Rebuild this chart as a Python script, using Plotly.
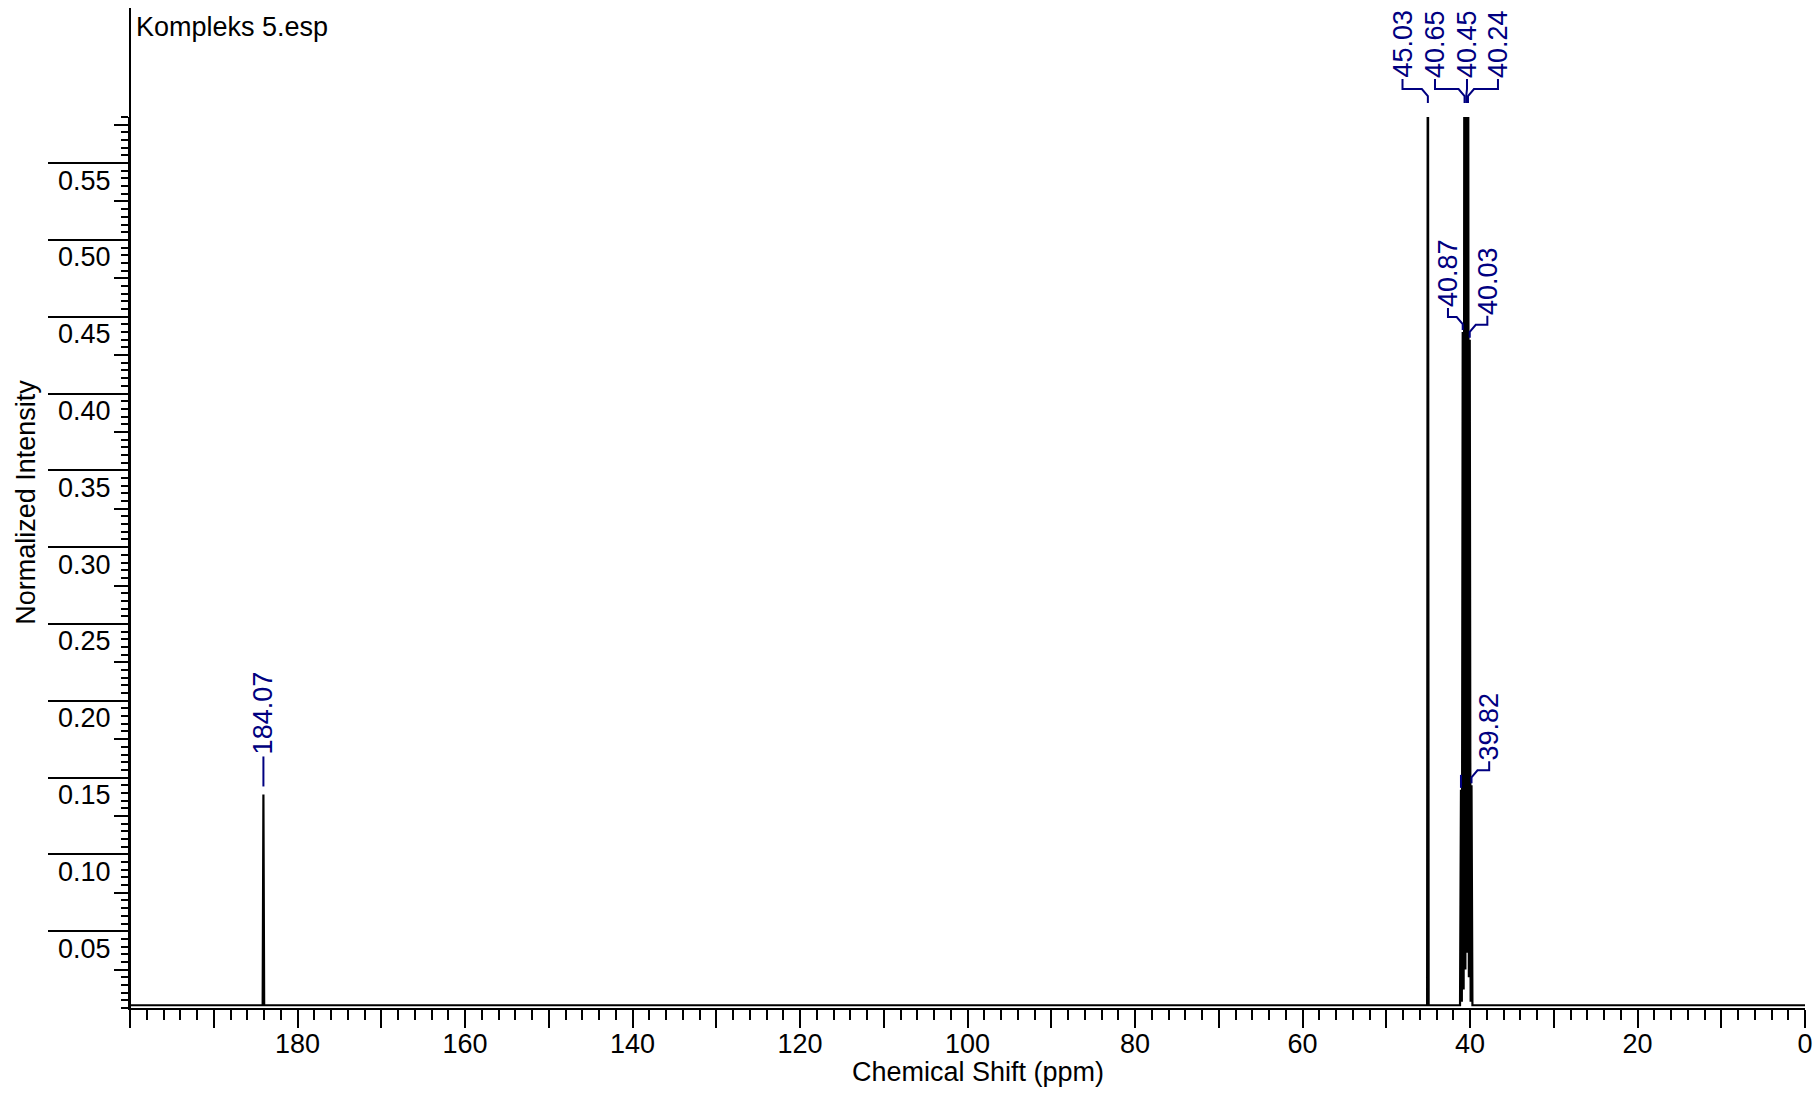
import plotly.graph_objects as go

# ---------------- data ----------------
spectrum_ppm = [200.0, 184.16, 184.07, 183.98, 45.12, 45.03, 44.94,
                41.19, 41.08, 40.975, 40.87, 40.76, 40.65, 40.55, 40.45,
                40.345, 40.24, 40.135, 40.03, 39.925, 39.82, 39.71, 0.0]
spectrum_intensity = [0.0018, 0.0018, 0.139, 0.0018, 0.0018, 0.80, 0.0018,
                      0.0018, 0.142, 0.004, 0.44, 0.012, 0.87, 0.025, 1.0,
                      0.036, 0.87, 0.02, 0.435, 0.004, 0.145, 0.0018, 0.0018]

top_labels = ["45.03", "40.65", "40.45", "40.24"]          # peaks above the view
peak_labels = ["40.87", "40.03", "39.82"]                  # labelled on their peak
dash_labels = ["184.07"]                                   # simple dash label
unlabeled_marks = [41.08]

x_tick_vals = list(range(0, 201, 10))
x_tick_text = ["0", "", "20", "", "40", "", "60", "", "80", "", "100", "",
               "120", "", "140", "", "160", "", "180", "", ""]
y_tick_vals = [0.05, 0.10, 0.15, 0.20, 0.25, 0.30, 0.35, 0.40, 0.45, 0.50, 0.55]
y_tick_text = ["0.05", "0.10", "0.15", "0.20", "0.25", "0.30", "0.35",
               "0.40", "0.45", "0.50", "0.55"]
y_mid_ticks = [0.025, 0.075, 0.125, 0.175, 0.225, 0.275, 0.325, 0.375,
               0.425, 0.475, 0.525, 0.575]

title_text = "Kompleks 5.esp"
x_title = "Chemical Shift (ppm)"
y_title = "Normalized Intensity"

# ---------------- layout constants ----------------
W, H = 1816, 1093
ML, MR, MT = 130, 11, 117
MB = H - MT - 891
PLOT_H = H - MT - MB
X_RANGE = [200, 0]
Y_RANGE = [0, 0.58]
FONT = "Liberation Sans, Arial, sans-serif"
FS = 27
LBL_COLOR = "#000080"
PX_PER_PPM = (W - ML - MR) / (X_RANGE[0] - X_RANGE[1])

# label x positions (ppm) for labels that are spread out
label_x = {"45.03": 48.06, "40.65": 44.18, "40.45": 40.36, "40.24": 36.66,
           "40.87": 42.63, "40.03": 37.93, "39.82": 37.71}

height_at = dict(zip(spectrum_ppm, spectrum_intensity))

fig = go.Figure()
fig.add_trace(go.Scatter(x=spectrum_ppm, y=spectrum_intensity, mode="lines",
                         line=dict(color="black", width=2.2), showlegend=False,
                         hoverinfo="skip"))
fig.add_trace(go.Scatter(x=[None], y=[None], yaxis="y2", showlegend=False))

shapes = []
annotations = []


def connector(lab_ppm, pk_ppm, yref, yanchor, y_text, y_knee, y_node, y_end):
    dx_px = abs(pk_ppm - lab_ppm) * PX_PER_PPM
    step = min(dx_px, 6.0) / PX_PER_PPM
    knee_x = pk_ppm + step if lab_ppm > pk_ppm else pk_ppm - step
    path = (f"M {lab_ppm},{y_text} L {lab_ppm},{y_knee} L {knee_x},{y_knee} "
            f"L {pk_ppm},{y_node} L {pk_ppm},{y_end}")
    return dict(type="path", xref="x", yref=yref, ysizemode="pixel",
                yanchor=yanchor, path=path,
                line=dict(color=LBL_COLOR, width=2))


for lab in top_labels:
    pk = float(lab)
    lx = label_x[lab]
    shapes.append(connector(lx, pk, "paper", 1, 38, 28, 21, 14))
    annotations.append(dict(text=lab, x=lx, xref="x", y=1, yref="paper",
                            yshift=37, yanchor="bottom", xanchor="center",
                            textangle=-90, showarrow=False,
                            font=dict(family=FONT, size=FS, color=LBL_COLOR)))

for lab in peak_labels:
    pk = float(lab)
    lx = label_x[lab]
    h = height_at[pk]
    shapes.append(connector(lx, pk, "y", h, 24, 15, 8, 2))
    annotations.append(dict(text=lab, x=lx, xref="x", y=h, yref="y",
                            yshift=23, yanchor="bottom", xanchor="center",
                            textangle=-90, showarrow=False,
                            font=dict(family=FONT, size=FS, color=LBL_COLOR)))

for lab in dash_labels:
    pk = float(lab)
    h = height_at[pk]
    shapes.append(dict(type="line", xref="x", x0=pk, x1=pk, yref="y",
                       ysizemode="pixel", yanchor=h, y0=8, y1=38,
                       line=dict(color=LBL_COLOR, width=2)))
    annotations.append(dict(text=lab, x=pk, xref="x", y=h, yref="y",
                            yshift=38, yanchor="bottom", xanchor="center",
                            textangle=-90, showarrow=False,
                            font=dict(family=FONT, size=FS, color=LBL_COLOR)))

for pk in unlabeled_marks:
    h = height_at[pk]
    shapes.append(dict(type="line", xref="x", x0=pk, x1=pk, yref="y",
                       ysizemode="pixel", yanchor=h, y0=2, y1=15,
                       line=dict(color=LBL_COLOR, width=2)))

# extension of the y axis line above the plotting area (to near the page top)
shapes.append(dict(type="line", xref="paper", yref="paper", x0=0, x1=0,
                   y0=0, y1=1 + (MT - 8) / PLOT_H,
                   line=dict(color="black", width=2)))

annotations.append(dict(text=title_text, xref="paper", x=0, xshift=4,
                        xanchor="left", yref="paper", y=1, yshift=90,
                        yanchor="middle", showarrow=False,
                        font=dict(family=FONT, size=FS, color="black")))
annotations.append(dict(text=x_title, xref="paper", x=0.506, xanchor="center",
                        yref="paper", y=0, yshift=-64, yanchor="middle",
                        showarrow=False,
                        font=dict(family=FONT, size=FS, color="black")))
annotations.append(dict(text=y_title, xref="paper", x=0, xshift=-104,
                        xanchor="center", yref="paper", y=0.567,
                        yanchor="middle", textangle=-90, showarrow=False,
                        font=dict(family=FONT, size=FS, color="black")))

fig.update_layout(
    width=W, height=H,
    margin=dict(l=ML, r=MR, t=MT, b=MB, autoexpand=False),
    paper_bgcolor="white", plot_bgcolor="white",
    font=dict(family=FONT, size=FS, color="black"),
    shapes=shapes, annotations=annotations,
    xaxis=dict(range=X_RANGE, tickmode="array", tickvals=x_tick_vals,
               ticktext=x_tick_text, ticks="outside", ticklen=18, tickwidth=2,
               tickcolor="black", showline=True, linecolor="black",
               linewidth=2, showgrid=False, zeroline=False,
               ticklabelstandoff=-7, ticklabeloverflow="allow",
               tickfont=dict(family=FONT, size=FS, color="black"),
               minor=dict(tickmode="linear", tick0=0, dtick=2,
                          ticks="outside", ticklen=10, tickwidth=2,
                          tickcolor="black", showgrid=False)),
    yaxis=dict(range=Y_RANGE, tickmode="array", tickvals=y_tick_vals,
               ticktext=y_tick_text, ticks="outside", ticklen=80, tickwidth=2,
               tickcolor="black", showline=True, linecolor="black",
               linewidth=2, showgrid=False, zeroline=False,
               ticklabelstandoff=-68, ticklabelshift=17,
               tickfont=dict(family=FONT, size=FS, color="black"),
               minor=dict(tickmode="linear", tick0=0, dtick=0.005,
                          ticks="outside", ticklen=7, tickwidth=2,
                          tickcolor="black", showgrid=False)),
    yaxis2=dict(range=Y_RANGE, overlaying="y", side="left", anchor="x",
                tickmode="array", tickvals=y_mid_ticks, ticks="outside",
                ticklen=15, tickwidth=2, tickcolor="black",
                showticklabels=False, showline=False, showgrid=False,
                zeroline=False),
)

fig.write_html(
    "out.html",
    config={"displayModeBar": False},
    post_script="document.body.style.margin='0';"
                "document.body.style.overflow='hidden';",
)
